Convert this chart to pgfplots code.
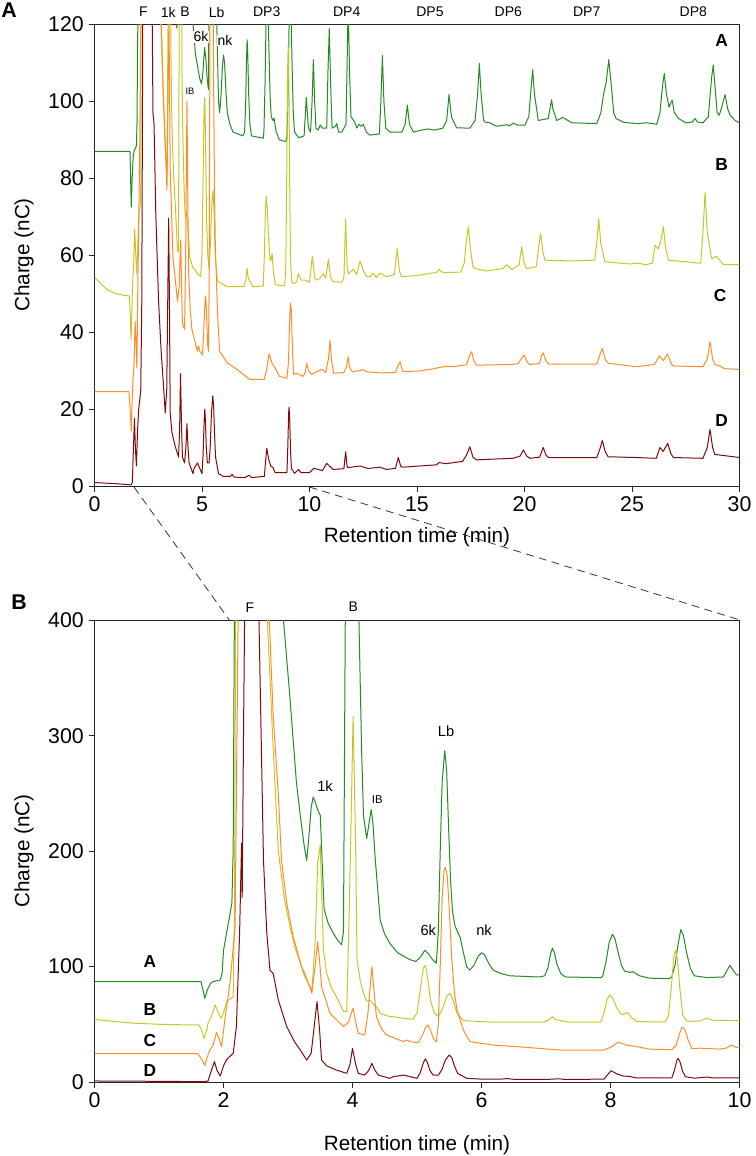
\documentclass[border=0pt]{standalone}
\usepackage{fontspec}
\setmainfont{Liberation Sans}
\usepackage{pgfplots}
\usepackage{pgfplotstable}
\pgfplotsset{compat=1.18}
\definecolor{cA}{RGB}{34,139,34}
\definecolor{cB}{RGB}{198,198,40}
\definecolor{cC}{RGB}{255,140,40}
\definecolor{cD}{RGB}{128,10,10}

\pgfplotstableread[row sep=\\]{x y\\
0 87\\ 1.65 87\\ 1.68 80\\ 1.71 72.5\\ 1.75 80\\ 1.8 85.5\\ 1.84 87\\ 1.95 88.4\\ 1.98 95\\ 2.0 114\\ 2.05 130\\ 2.1 145\\ 2.13 155\\ 2.15 201\\ 2.17 420\\ 2.25 800\\ 2.5 900\\ 2.75 600\\ 2.93 400\\ 3.03 333\\ 3.13 260\\ 3.19 231\\ 3.25 205\\ 3.29 192\\ 3.32 210\\ 3.36 238\\ 3.39 247\\ 3.42 243\\ 3.46 236\\ 3.5 231\\ 3.53 190\\ 3.56 150\\ 3.62 138\\ 3.70 129\\ 3.78 122\\ 3.83 119\\ 3.86 130\\ 3.89 420\\ 4.0 800\\ 4.1 400\\ 4.14 290\\ 4.17 231\\ 4.22 211\\ 4.25 222\\ 4.29 236\\ 4.32 222\\ 4.35 195\\ 4.43 140\\ 4.5 128\\ 4.58 120\\ 4.7 112\\ 4.89 106\\ 4.98 104.5\\ 5.05 108\\ 5.12 114\\ 5.18 111\\ 5.24 106\\ 5.30 103\\ 5.33 130\\ 5.36 200\\ 5.39 260\\ 5.43 287\\ 5.46 270\\ 5.49 220\\ 5.52 175\\ 5.55 148\\ 5.59 135\\ 5.67 125\\ 5.72 112\\ 5.77 100\\ 5.82 97\\ 5.88 101\\ 5.95 109\\ 6.0 112\\ 6.05 110\\ 6.12 102\\ 6.18 97\\ 6.3 94\\ 6.44 92\\ 6.9 91\\ 6.98 92\\ 7.03 99\\ 7.07 111\\ 7.1 116\\ 7.13 112\\ 7.17 102\\ 7.23 94\\ 7.3 91\\ 7.85 90.4\\ 7.88 92\\ 7.93 104\\ 7.98 121\\ 8.03 128\\ 8.07 124\\ 8.12 112\\ 8.17 101\\ 8.22 96\\ 8.3 95\\ 8.35 95.6\\ 8.45 92\\ 8.6 90\\ 8.9 89.5\\ 8.95 91\\ 9.0 101\\ 9.05 120\\ 9.09 132\\ 9.13 127\\ 9.18 112\\ 9.24 98\\ 9.3 92\\ 9.5 90.5\\ 9.75 91\\ 9.8 96\\ 9.85 101\\ 9.9 97\\ 9.95 93\\ 10.05 92\\ 10.12 100\\ 10.18 110.8\\ 10.24 100\\ 10.3 93\\ 10.4 92.5\\ 10.5 93.8\\ 10.6 93\\ 10.8 93\\ 10.86 108\\ 10.92 118.9\\ 10.98 105\\ 11.05 93\\ 11.2 93.5\\ 11.27 94.2\\ 11.35 92\\ 11.5 92\\ 11.7 94\\ 11.75 110\\ 11.8 126\\ 11.86 108\\ 11.93 96\\ 12.1 94.6\\ 12.2 93\\ 12.3 94\\ 12.4 93.5\\ 12.5 94\\ 12.65 92\\ 12.8 91.2\\ 13.25 91.5\\ 13.32 100\\ 13.39 111.9\\ 13.46 100\\ 13.55 93\\ 13.74 92\\ 14.3 92\\ 14.45 94\\ 14.55 99\\ 14.65 94\\ 14.83 92\\ 15.2 92.5\\ 15.5 92.8\\ 15.8 92.5\\ 16.2 93\\ 16.38 95\\ 16.49 101.7\\ 16.6 96\\ 16.84 93.1\\ 17.46 93\\ 17.7 95\\ 17.82 102\\ 17.9 109.8\\ 17.98 102\\ 18.1 95\\ 18.16 94.6\\ 18.39 94.4\\ 18.7 93.5\\ 19.17 93.9\\ 19.3 93.6\\ 19.48 94.3\\ 19.7 93.8\\ 20.02 93.8\\ 20.2 96\\ 20.3 103\\ 20.38 108.2\\ 20.46 102\\ 20.64 95\\ 21.1 95.5\\ 21.2 98.5\\ 21.26 100.4\\ 21.32 98\\ 21.5 95\\ 21.78 95.8\\ 22.2 94.4\\ 23.36 94.2\\ 23.55 97\\ 23.67 101.6\\ 23.8 105\\ 23.92 110.8\\ 24.04 104\\ 24.15 97\\ 24.26 95.5\\ 24.62 94.5\\ 25.24 94.2\\ 25.7 94.4\\ 26.15 94\\ 26.3 97\\ 26.42 104\\ 26.5 107.2\\ 26.6 102\\ 26.72 98.5\\ 26.87 100.3\\ 26.97 97\\ 27.17 95.5\\ 27.5 94.4\\ 27.8 94.6\\ 27.93 95.5\\ 28.05 94.6\\ 28.3 94.4\\ 28.55 96\\ 28.7 106\\ 28.78 109.4\\ 28.86 104\\ 28.96 97\\ 29.06 96.4\\ 29.2 99\\ 29.33 101.7\\ 29.45 98\\ 29.56 96.4\\ 29.8 95\\ 30 94.4\\
}\trA

\pgfplotstableread[row sep=\\]{x y\\
0 54.3\\ 0.3 52.5\\ 0.6 51\\ 1.0 50\\ 1.4 49.5\\ 1.62 49.4\\ 1.66 45\\ 1.70 38\\ 1.74 45\\ 1.76 50.9\\ 1.82 58\\ 1.87 66.8\\ 1.92 60\\ 1.96 55.2\\ 2.0 60\\ 2.05 69.6\\ 2.15 74\\ 2.17 150\\ 2.19 420\\ 2.3 900\\ 2.55 700\\ 2.68 400\\ 2.77 289\\ 2.85 200\\ 2.94 160\\ 3.03 134.6\\ 3.1 118\\ 3.19 103\\ 3.26 91.3\\ 3.37 79.8\\ 3.42 120\\ 3.46 190\\ 3.5 205\\ 3.53 150\\ 3.55 114\\ 3.6 94\\ 3.67 82\\ 3.75 74\\ 3.86 61\\ 3.91 61\\ 3.95 150\\ 4.01 316.7\\ 4.05 200\\ 4.07 105.8\\ 4.12 88\\ 4.17 76.9\\ 4.22 70\\ 4.27 71\\ 4.32 68\\ 4.37 65.3\\ 4.43 59.5\\ 4.58 56.6\\ 4.63 56.6\\ 4.79 55.2\\ 4.94 54.4\\ 5.0 60\\ 5.05 80\\ 5.1 99\\ 5.13 101\\ 5.17 88\\ 5.21 70\\ 5.27 60\\ 5.33 56.6\\ 5.4 64\\ 5.46 74\\ 5.51 76.9\\ 5.56 71\\ 5.62 59.5\\ 5.72 53.2\\ 6.18 51.8\\ 6.96 51.8\\ 7.05 54\\ 7.1 56.6\\ 7.15 54\\ 7.37 51.8\\ 7.85 52\\ 7.9 60\\ 7.95 72\\ 7.99 75.4\\ 8.04 72\\ 8.1 64\\ 8.16 59\\ 8.2 58.5\\ 8.26 60.4\\ 8.32 56\\ 8.41 52.3\\ 8.85 52\\ 8.9 58\\ 8.94 80\\ 8.98 108\\ 9.01 114.4\\ 9.04 105\\ 9.08 78\\ 9.12 58\\ 9.18 53\\ 9.25 52.6\\ 9.4 53\\ 9.48 55.2\\ 9.6 53.5\\ 9.79 53.5\\ 10.0 53\\ 10.13 59.7\\ 10.25 54\\ 10.33 53.5\\ 10.5 54\\ 10.64 55.2\\ 10.75 54\\ 10.88 58.9\\ 10.98 54\\ 11.1 53.1\\ 11.5 53\\ 11.6 54\\ 11.68 69.4\\ 11.75 57\\ 11.81 55.2\\ 12.04 56.3\\ 12.2 55\\ 12.35 58.5\\ 12.5 56\\ 12.66 54.4\\ 12.81 54.4\\ 12.96 55.3\\ 13.1 54.2\\ 13.27 55.3\\ 13.58 54.4\\ 13.95 55\\ 14.08 61.7\\ 14.18 56\\ 14.27 54.4\\ 15.1 54.8\\ 15.64 55.3\\ 15.9 55.5\\ 16.03 56.3\\ 16.15 55.6\\ 16.34 55.5\\ 17.04 55.6\\ 17.2 58\\ 17.3 64\\ 17.39 67.4\\ 17.48 62\\ 17.6 57\\ 17.71 56.5\\ 18.25 55.9\\ 19.0 56.5\\ 19.18 57.5\\ 19.3 56.8\\ 19.41 56.3\\ 19.75 57.5\\ 19.87 62.2\\ 19.98 58\\ 20.1 56.5\\ 20.55 57\\ 20.68 63\\ 20.75 65.6\\ 20.85 61\\ 20.95 58.7\\ 22.1 58.5\\ 23.26 58.7\\ 23.36 63\\ 23.45 69.5\\ 23.55 63\\ 23.74 58.3\\ 24.9 57.7\\ 25.28 57.9\\ 25.67 57.5\\ 25.95 58\\ 26.07 62.6\\ 26.22 61.7\\ 26.35 64\\ 26.46 67.4\\ 26.56 62\\ 26.7 58.7\\ 28.2 57.9\\ 28.3 66\\ 28.4 76.3\\ 28.5 66\\ 28.7 59.1\\ 28.93 59.7\\ 29.24 57.6\\ 30 57.5\\
}\trB

\pgfplotstableread[row sep=\\]{x y\\
0 24.5\\ 1.6 24.5\\ 1.66 20\\ 1.71 14.3\\ 1.75 22\\ 1.79 27.7\\ 1.84 32\\ 1.89 42.8\\ 1.93 38\\ 1.97 30.6\\ 2.02 53.8\\ 2.1 85.6\\ 2.18 134.6\\ 2.23 420\\ 2.35 900\\ 2.6 650\\ 2.71 400\\ 2.77 318\\ 2.85 249\\ 2.9 192\\ 2.98 155\\ 3.08 126\\ 3.21 100\\ 3.26 94\\ 3.37 77\\ 3.42 100\\ 3.46 121.6\\ 3.49 105\\ 3.52 82.6\\ 3.65 59.5\\ 3.86 48\\ 3.94 52\\ 3.97 58\\ 4.01 64\\ 4.05 52\\ 4.09 42.2\\ 4.19 40.7\\ 4.24 60\\ 4.3 100\\ 4.34 75\\ 4.37 56.6\\ 4.45 46\\ 4.53 40.7\\ 4.79 35\\ 4.84 36.4\\ 4.9 35\\ 5.02 34\\ 5.08 40\\ 5.13 47\\ 5.17 49.4\\ 5.21 45\\ 5.26 37\\ 5.30 35\\ 5.33 50\\ 5.36 100\\ 5.39 160\\ 5.42 184\\ 5.44 186\\ 5.47 178\\ 5.5 150\\ 5.54 105.8\\ 5.58 78\\ 5.62 62.4\\ 5.72 45\\ 5.82 35\\ 6.18 32\\ 6.7 30\\ 7.22 27.7\\ 7.89 27.7\\ 8.0 30\\ 8.12 34.4\\ 8.25 32\\ 8.41 30.6\\ 8.6 28.5\\ 8.95 28\\ 9.02 32\\ 9.07 42\\ 9.11 47.5\\ 9.15 46\\ 9.2 37\\ 9.26 29\\ 9.4 29.3\\ 9.7 28.5\\ 9.8 29.5\\ 9.87 31.9\\ 9.95 30\\ 10.1 29\\ 10.33 29.7\\ 10.6 30.3\\ 10.75 29.5\\ 10.88 33\\ 10.95 37.9\\ 11.02 33\\ 11.12 29.3\\ 11.6 29.5\\ 11.72 31\\ 11.8 33.6\\ 11.88 30.5\\ 12.0 29.7\\ 12.35 30\\ 12.5 30.3\\ 12.65 29.7\\ 13.28 29.4\\ 14.0 29.5\\ 14.1 31\\ 14.21 32.3\\ 14.3 30.5\\ 14.36 29.7\\ 15.13 29.9\\ 15.8 30.5\\ 16.2 31\\ 16.67 31\\ 17.3 31.5\\ 17.45 34\\ 17.54 34.9\\ 17.65 32.5\\ 17.77 31.4\\ 19.47 31.6\\ 19.7 31.8\\ 19.9 33.5\\ 19.98 34\\ 20.1 32.5\\ 20.22 31.6\\ 20.7 31.8\\ 20.8 34\\ 20.87 34.6\\ 21.0 32.5\\ 21.13 31.7\\ 23.36 31.7\\ 23.5 34\\ 23.62 35.8\\ 23.75 33\\ 23.89 31.9\\ 25.2 31\\ 26.05 31.6\\ 26.27 33.8\\ 26.45 32.6\\ 26.66 34.3\\ 26.8 32\\ 26.92 31.2\\ 28.3 31\\ 28.5 33\\ 28.63 37.5\\ 28.75 33\\ 28.85 31.6\\ 29.08 31.2\\ 29.3 30.5\\ 30 30.3\\
}\trC

\pgfplotstableread[row sep=\\]{x y\\
0 0.9\\ 1.0 0.6\\ 1.7 0.3\\ 1.76 0.9\\ 1.8 8\\ 1.86 17.6\\ 1.9 10\\ 1.95 5.2\\ 2.0 14\\ 2.05 19.6\\ 2.15 24.8\\ 2.2 48\\ 2.25 130\\ 2.28 207\\ 2.29 160\\ 2.31 300\\ 2.33 420\\ 2.42 900\\ 2.5 600\\ 2.55 400\\ 2.62 192\\ 2.67 130\\ 2.72 97\\ 2.77 94\\ 2.85 71\\ 2.98 48\\ 3.1 35\\ 3.19 27.7\\ 3.29 19\\ 3.36 25\\ 3.41 50\\ 3.45 69.6\\ 3.49 45\\ 3.52 19\\ 3.6 14\\ 3.75 10.4\\ 3.91 7.5\\ 3.96 15\\ 4.0 29.2\\ 4.05 15\\ 4.09 7.5\\ 4.19 6\\ 4.25 10\\ 4.3 16.2\\ 4.35 10\\ 4.4 6\\ 4.58 3.2\\ 4.63 4.6\\ 4.79 6\\ 5.0 3.2\\ 5.05 8\\ 5.1 17\\ 5.13 20\\ 5.16 17\\ 5.2 10\\ 5.25 6\\ 5.33 6\\ 5.38 10\\ 5.44 19\\ 5.5 23.4\\ 5.54 21\\ 5.58 14\\ 5.63 7.5\\ 5.77 3.2\\ 6.0 2.5\\ 6.3 2.5\\ 6.4 3\\ 6.5 2.3\\ 7.0 2.2\\ 7.2 2.8\\ 7.3 2.2\\ 7.9 2.5\\ 7.95 6\\ 8.01 9.8\\ 8.1 7\\ 8.2 5.2\\ 8.3 4.8\\ 8.4 3.5\\ 8.95 3.5\\ 8.99 10\\ 9.03 19\\ 9.05 20.5\\ 9.08 17\\ 9.12 9\\ 9.16 4.6\\ 9.3 3.3\\ 9.5 4.3\\ 9.6 3.5\\ 9.8 3.5\\ 10.0 3.5\\ 10.2 4.6\\ 10.6 4\\ 10.8 5.9\\ 11.1 4.3\\ 11.6 4.5\\ 11.68 8.9\\ 11.75 5\\ 11.8 4.8\\ 12.35 5.2\\ 12.7 4.6\\ 12.81 4.6\\ 13.27 4.9\\ 13.58 4.3\\ 14.0 4.6\\ 14.13 7.4\\ 14.25 5\\ 14.36 4.9\\ 15.13 5.2\\ 15.9 5.5\\ 16.03 6.1\\ 16.34 5.8\\ 17.12 6.4\\ 17.3 8\\ 17.46 10.2\\ 17.6 7.5\\ 17.77 6.8\\ 19.47 7.2\\ 19.8 7.8\\ 19.95 9.4\\ 20.1 7.8\\ 20.26 7.2\\ 20.7 7.5\\ 20.87 10\\ 21.0 8\\ 21.13 7.4\\ 23.36 7.4\\ 23.5 9.5\\ 23.62 11.8\\ 23.75 9\\ 23.89 7.6\\ 25.2 7.4\\ 26.13 7.2\\ 26.3 10\\ 26.45 9\\ 26.66 11.1\\ 26.8 8.5\\ 26.92 7.4\\ 28.3 7.2\\ 28.5 10\\ 28.63 14.7\\ 28.75 10\\ 28.85 8.2\\ 29.16 8\\ 30 7.4\\
}\trD

\pgfplotsset{chrom/.style={
  scale only axis, width=483.75pt, height=346.275pt, anchor=south west,
  axis line style={black!85, line width=0.75pt},
  tick style={black!85, line width=0.75pt},
  tick align=outside, major tick length=4.5pt,
  xtick pos=bottom, ytick pos=left,
  /pgf/number format/assume math mode=true,
  tick label style={font=\fontsize{16}{18}\selectfont},
  every axis plot/.append style={line width=0.75pt, no marks, line join=round},
}}
\newcommand{\lbl}{\fontsize{10.5}{12}\selectfont}

\begin{document}
\begin{tikzpicture}
\begin{axis}[chrom, at={(70.875pt,-364.5pt)}, xmin=0, xmax=30, ymin=0, ymax=120,
  xtick={0,5,...,30}, ytick={0,20,...,120}]
\addplot[cA] table {\trA};
\addplot[cB] table {\trB};
\addplot[cC] table {\trC};
\addplot[cD] table {\trD};
\end{axis}
\begin{axis}[chrom, at={(70.875pt,-811.5pt)}, xmin=0, xmax=10, ymin=0, ymax=400,
  xtick={0,2,...,10}, ytick={0,100,...,400}]
\addplot[cA] table {\trA};
\addplot[cB] table {\trB};
\addplot[cC] table {\trC};
\addplot[cD] table {\trD};
\end{axis}
\begin{scope}[x=0.75pt, y=-0.75pt]
\useasboundingbox (0,0) rectangle (750,1156);
% panel A annotations
\node[font=\fontsize{16}{18}\selectfont\bfseries] at (9,10) {A};
\node[font=\lbl] at (143.3,12) {F};
\node[font=\lbl] at (168.3,12) {1k};
\node[font=\lbl] at (185,12) {B};
\node[font=\lbl] at (216.7,12) {Lb};
\node[font=\lbl] at (266.7,12) {DP3};
\node[font=\lbl] at (346.7,12) {DP4};
\node[font=\lbl] at (430,12) {DP5};
\node[font=\lbl] at (508.3,12) {DP6};
\node[font=\lbl] at (586.7,12) {DP7};
\node[font=\lbl] at (693.3,12) {DP8};
\node[font=\lbl, fill=white, inner sep=0.5pt] at (201,36.7) {6k};
\node[font=\lbl, fill=white, inner sep=0.5pt] at (225,40.5) {nk};
\node[font=\fontsize{7}{8}\selectfont] at (190,91) {IB};
\node[font=\fontsize{13}{15}\selectfont\bfseries] at (721.7,40.7) {A};
\node[font=\fontsize{13}{15}\selectfont\bfseries] at (721.7,165) {B};
\node[font=\fontsize{13}{15}\selectfont\bfseries] at (720,295.7) {C};
\node[font=\fontsize{13}{15}\selectfont\bfseries] at (721.7,420.7) {D};
\node[font=\fontsize{15.5}{18}\selectfont, rotate=90] at (24,255) {Charge (nC)};
\node[font=\fontsize{15.5}{18}\selectfont] at (417,537) {Retention time (min)};
% panel B annotations
\node[font=\fontsize{16}{18}\selectfont\bfseries] at (19,601.7) {B};
\node[font=\lbl] at (250,607.3) {F};
\node[font=\lbl] at (353.3,606.7) {B};
\node[font=\fontsize{11}{13}\selectfont] at (325,785.7) {1k};
\node[font=\fontsize{8.5}{10}\selectfont] at (377.3,799.3) {IB};
\node[font=\fontsize{11}{13}\selectfont] at (446,731.7) {Lb};
\node[font=\fontsize{11}{13}\selectfont] at (428.3,930.7) {6k};
\node[font=\fontsize{11}{13}\selectfont] at (484,930) {nk};
\node[font=\fontsize{13}{15}\selectfont\bfseries] at (150,961.7) {A};
\node[font=\fontsize{13}{15}\selectfont\bfseries] at (150,1009.3) {B};
\node[font=\fontsize{13}{15}\selectfont\bfseries] at (150,1040.7) {C};
\node[font=\fontsize{13}{15}\selectfont\bfseries] at (150,1070.7) {D};
\node[font=\fontsize{15.5}{18}\selectfont, rotate=90] at (24,851) {Charge (nC)};
\node[font=\fontsize{15.5}{18}\selectfont] at (417,1145) {Retention time (min)};
% zoom lines
\draw[black!80, line width=0.6pt, dash pattern=on 6pt off 4pt] (134,487) -- (229.3,620);
\draw[black!80, line width=0.6pt, dash pattern=on 6pt off 4pt] (309.5,487) -- (740,620);
\end{scope}
\end{tikzpicture}
\end{document}
